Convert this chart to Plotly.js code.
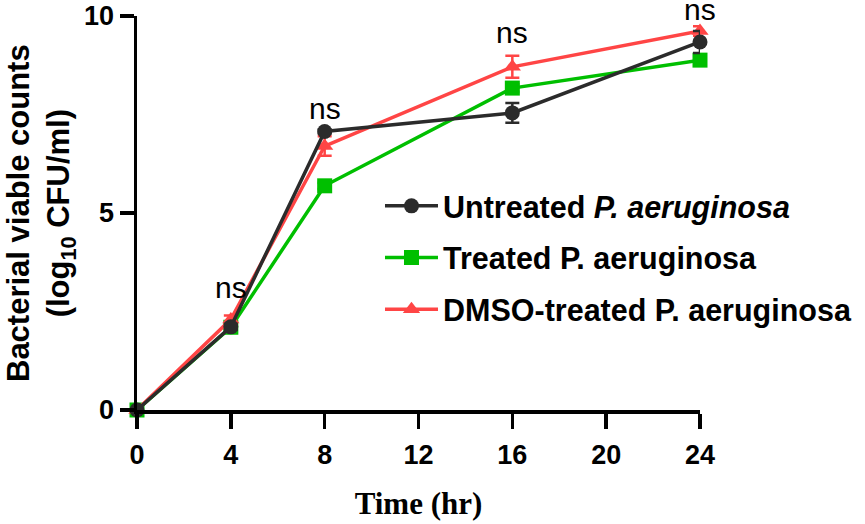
<!DOCTYPE html>
<html>
<head>
<meta charset="utf-8">
<script src="https://cdn.plot.ly/plotly-3.0.1.min.js"></script>
<style>
  html, body { margin: 0; padding: 0; background: #fff; }
  #chart { width: 865px; height: 524px; }
</style>
</head>
<body>
<div id="chart"></div>
<script>
// ── Data ──────────────────────────────────────────────────────────────────
const timeHr = [0, 4, 8, 16, 24];

const untreated    = [0, 2.11, 7.07, 7.54, 9.34];
const untreatedErr = [0, 0.08, 0.05, 0.25, 0.28];

const treated    = [0, 2.10, 5.69, 8.17, 8.88];
const treatedErr = [0, 0.05, 0.08, 0.10, 0.10];

const dmso    = [0, 2.30, 6.70, 8.71, 9.62];
const dmsoErr = [0, 0.10, 0.25, 0.28, 0.12];

const seriesNames = [
  'Untreated <i>P. aeruginosa</i>',
  'Treated P. aeruginosa',
  'DMSO-treated P. aeruginosa',
];

const nsX = [4, 8, 16, 24];
const nsY = [3.1, 7.64, 9.57, 10.17];

const xTicks = [0, 4, 8, 12, 16, 20, 24];
const yTicks = [0, 5, 10];
const Y_MAX = 10;

const yTitle = 'Bacterial viable counts<br>(log<sub>10</sub> CFU/ml)';

// ── Style ─────────────────────────────────────────────────────────────────
const BLACK = '#2b2b2b';
const GREEN = '#00bf00';
const RED   = '#ff4545';
const SANS  = 'Arial, "Liberation Sans", sans-serif';

function trace(y, err, name, color, symbol, rank, group) {
  return {
    x: timeHr,
    y: y,
    name: name,
    type: 'scatter',
    mode: 'lines+markers',
    legendrank: rank,
    legendgroup: group,
    cliponaxis: false,
    line: { color: color, width: 3.5 },
    marker: { color: color, symbol: symbol, size: 15 },
    error_y: { type: 'data', array: err, visible: true, color: color, thickness: 2.5, width: 7 },
  };
}

// drawn green → red → black so the black trace sits on top
const data = [
  trace(treated,   treatedErr,   seriesNames[1], GREEN, 'square',      2, 'b'),
  trace(dmso,      dmsoErr,      seriesNames[2], RED,   'triangle-up', 3, 'c'),
  trace(untreated, untreatedErr, seriesNames[0], BLACK, 'circle',      1, 'a'),
];

// "ns" labels above each time point
const nsNotes = nsX.map((x, i) => ({
  x: x, y: nsY[i] / Y_MAX, xref: 'x', yref: 'paper',
  text: 'ns', showarrow: false,
  xanchor: 'center', yanchor: 'middle',
  font: { family: SANS, size: 30, color: '#000' },
}));

// y-axis title as a rotated annotation (margins are fixed, so axis title standoff misbehaves)
const yTitleNote = {
  x: -0.1705, y: 0.5, xref: 'paper', yref: 'paper',
  text: yTitle, showarrow: false, textangle: -90,
  xanchor: 'center', yanchor: 'middle', align: 'center',
  font: { family: SANS, size: 31, color: '#000', weight: 'bold' },
};

const layout = {
  width: 865,
  height: 524,
  paper_bgcolor: '#fff',
  plot_bgcolor: '#fff',
  font: { family: SANS, size: 26, color: '#000' },
  margin: { l: 137, r: 165, t: 16, b: 114, pad: 0, autoexpand: false },
  showlegend: true,
  legend: {
    xref: 'container', yref: 'container',
    x: 0.4393, xanchor: 'left',
    y: 0.6574, yanchor: 'top',
    bgcolor: 'rgba(0,0,0,0)',
    borderwidth: 0,
    font: { family: SANS, size: 30.5, color: '#000', weight: 'bold' },
    traceorder: 'grouped',
    tracegroupgap: 9,
    itemwidth: 53,
  },
  xaxis: {
    range: [0, 24],
    tickvals: xTicks,
    ticktext: xTicks.map(String),
    ticks: 'outside',
    ticklen: 15,
    tickwidth: 3.5,
    tickcolor: '#000',
    showline: true,
    linewidth: 3.5,
    linecolor: '#000',
    showgrid: false,
    zeroline: false,
    fixedrange: true,
    ticklabelstandoff: 3,
    tickfont: { family: SANS, size: 27, weight: 'bold' },
    title: {
      text: 'Time (hr)',
      standoff: 24,
      font: { family: '"Times New Roman", "Liberation Serif", serif', size: 31, weight: 'bold' },
    },
  },
  yaxis: {
    range: [0, Y_MAX],
    tickvals: yTicks,
    ticktext: yTicks.map(String),
    ticks: 'outside',
    ticklen: 14,
    tickwidth: 3.5,
    tickcolor: '#000',
    showline: true,
    linewidth: 3.5,
    linecolor: '#000',
    showgrid: false,
    zeroline: false,
    fixedrange: true,
    tickfont: { family: SANS, size: 27, weight: 'bold' },
    title: { text: '' },
  },
  annotations: nsNotes.concat([yTitleNote]),
};

Plotly.newPlot('chart', data, layout, { displayModeBar: false, staticPlot: true });
</script>
</body>
</html>
